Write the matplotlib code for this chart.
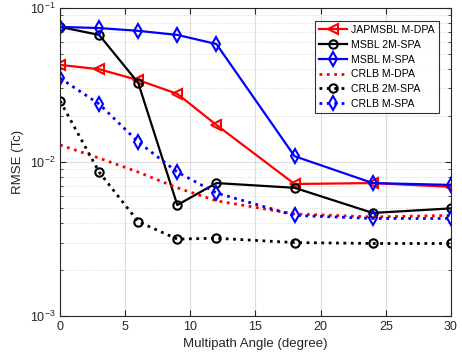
import matplotlib
matplotlib.use('Agg')
import matplotlib.pyplot as plt
import numpy as np

plt.rcParams['font.family'] = ['Liberation Sans', 'DejaVu Sans']

angles = [0, 3, 6, 9, 12, 18, 24, 30]

japmsbl_mdpa = [0.0427, 0.0400, 0.0340, 0.0277, 0.0174, 0.0072, 0.0073, 0.0069]
msbl_2mspa = [0.0753, 0.0668, 0.0326, 0.00526, 0.0073, 0.0068, 0.00467, 0.0050]
msbl_mspa = [0.0753, 0.0740, 0.0710, 0.0668, 0.0583, 0.0109, 0.0073, 0.0071]
crlb_mdpa = [0.0129, 0.0106, 0.0086, 0.0068, 0.0056, 0.0046, 0.0044, 0.0045]
crlb_2mspa = [0.0249, 0.0086, 0.0041, 0.00316, 0.0032, 0.0030, 0.00296, 0.00296]
crlb_mspa = [0.0350, 0.0238, 0.0135, 0.0086, 0.0063, 0.0045, 0.0043, 0.0043]

labels = ['JAPMSBL M-DPA', 'MSBL 2M-SPA', 'MSBL M-SPA',
          'CRLB M-DPA', 'CRLB 2M-SPA', 'CRLB M-SPA']

fig = plt.figure(figsize=(4.62, 3.6), dpi=100)
ax = fig.add_axes([0.13, 0.122, 0.846, 0.856])

lw = 1.6
mew = 1.5
ax.plot(angles, japmsbl_mdpa, color='red', ls='-', lw=lw, marker='<', ms=7,
        mfc='none', mew=mew, label=labels[0])
ax.plot(angles, msbl_2mspa, color='black', ls='-', lw=lw, marker='o', ms=6,
        mfc='none', mew=mew, label=labels[1])
ax.plot(angles, msbl_mspa, color='blue', ls='-', lw=lw, marker='d', ms=7,
        mfc='none', mew=mew, label=labels[2])
ax.plot(angles, crlb_mdpa, color='red', ls=':', lw=2, label=labels[3])
ax.plot(angles, crlb_2mspa, color='black', ls=':', lw=2, marker='o', ms=6,
        mfc='none', mew=mew, label=labels[4])
ax.plot(angles, crlb_mspa, color='blue', ls=':', lw=2, marker='d', ms=7,
        mfc='none', mew=mew, label=labels[5])

ax.set_yscale('log')
ax.set_xlim(0, 30)
ax.set_ylim(1e-3, 1e-1)
ax.set_xticks([0, 5, 10, 15, 20, 25, 30])

tc = '#262626'
ax.grid(True, which='major', color='#dcdcdc', lw=0.8, ls='-')
ax.grid(True, which='minor', axis='y', color='#d0d0d0', lw=0.6, ls=':')
ax.set_axisbelow(True)
ax.tick_params(which='both', direction='in', top=True, right=True,
               colors=tc, labelsize=9)
ax.tick_params(which='major', length=4)
ax.tick_params(which='minor', length=2.5)
for s in ax.spines.values():
    s.set_color(tc)
    s.set_linewidth(0.8)

ax.set_xlabel('Multipath Angle (degree)', fontsize=9.5, color=tc)
ax.set_ylabel('RMSE (Tc)', fontsize=9.5, color=tc)

leg = ax.legend(loc='upper right', bbox_to_anchor=(0.983, 0.975), fontsize=7.6,
                frameon=True, fancybox=False, edgecolor='black',
                handlelength=2.6, labelspacing=0.45, borderpad=0.4,
                handletextpad=0.4)
leg.get_frame().set_linewidth(0.8)

fig.savefig('out.png', dpi=100)
